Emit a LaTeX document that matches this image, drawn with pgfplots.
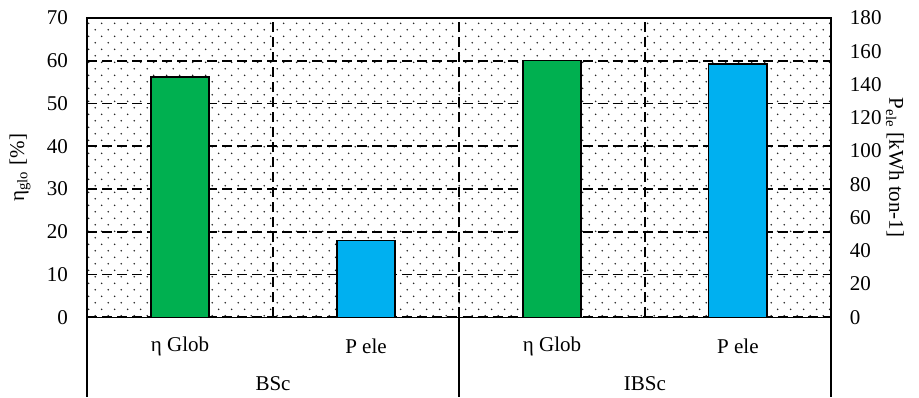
\documentclass[border=0pt]{standalone}
\usepackage{fontspec}
\setmainfont{Liberation Serif}
\usepackage{pgfplots}
\pgfplotsset{compat=1.18}
\usetikzlibrary{patterns}

\definecolor{barGreen}{HTML}{00B050}
\definecolor{barBlue}{HTML}{00B0F0}

% staggered dot texture for the plot background
\pgfdeclarepatternformonly{sparsedots}{\pgfpointorigin}{\pgfpoint{6.67pt}{6.67pt}}{\pgfpoint{6.67pt}{6.67pt}}{%
  \pgfpathcircle{\pgfpoint{1.2pt}{1.2pt}}{0.45pt}%
  \pgfpathcircle{\pgfpoint{4.53pt}{4.53pt}}{0.45pt}%
  \pgfusepath{fill}}

\tikzset{gridline/.style={black, line width=0.9pt, dash pattern=on 5pt off 2.5pt}}

\pgfplotsset{
  common/.style={
    width=371.5pt, height=149.5pt, scale only axis,
    at={(0,0)}, anchor=south west,
    xmin=-0.5, xmax=3.5,
    clip=false,
    major tick length=0pt,
    /pgf/number format/assume math mode=true,
  },
}

\begin{document}
\begin{tikzpicture}[font=\fontsize{10.5pt}{12pt}\selectfont]
\useasboundingbox (-43.5pt,-40pt) rectangle (415.5pt,158.5pt);

% left axis: global efficiency
\begin{axis}[common,
  axis line style={black, line width=0.75pt},
  axis background/.style={pattern=sparsedots, pattern color=black!85},
  ymin=0, ymax=70, ytick distance=10,
  ymajorgrids, major grid style={gridline},
  xtick={0,1,2,3},
  xticklabels={η Glob, P ele, η Glob, P ele},
  xticklabel style={anchor=center, yshift=-14.5pt},
  extra x ticks={0.5,1.5,2.5},
  extra x tick labels={},
  extra x tick style={grid=major, major grid style={gridline}},
  yticklabel style={anchor=east, xshift=-6pt},
  every axis y label/.style={at={(rel axis cs:0,0.5)}, xshift=-33.5pt, rotate=90, anchor=center},
  ylabel={η\textsubscript{glo} [\%]},
]
\addplot[ybar, bar width=29pt, bar shift=0pt, fill=barGreen, draw=black, line width=0.6pt]
  coordinates {(0,56.2) (2,60.0)};

% category separators below the axis
\draw[black, line width=0.75pt] (axis cs:-0.5,0) -- ++(0pt,-40pt);
\draw[black, line width=0.75pt] (axis cs:1.5,0) -- ++(0pt,-40pt);
\draw[black, line width=0.75pt] (axis cs:3.5,0) -- ++(0pt,-40pt);
\node[anchor=center] at ([yshift=-33pt]axis cs:0.5,0) {BSc};
\node[anchor=center] at ([yshift=-33pt]axis cs:2.5,0) {IBSc};
\end{axis}

% right axis: electric power
\begin{axis}[common,
  axis x line=none,
  axis y line*=right,
  axis line style={draw=none},
  ymin=0, ymax=180, ytick distance=20,
  yticklabel style={anchor=west, xshift=6pt},
  every axis y label/.style={at={(rel axis cs:1,0.5)}, xshift=32pt, rotate=-90, anchor=center},
  ylabel={P\textsubscript{ele} [kWh ton-1]},
]
\addplot[ybar, bar width=29pt, bar shift=0pt, fill=barBlue, draw=black, line width=0.6pt]
  coordinates {(1,46.4) (3,152.3)};
\end{axis}
\end{tikzpicture}
\end{document}
